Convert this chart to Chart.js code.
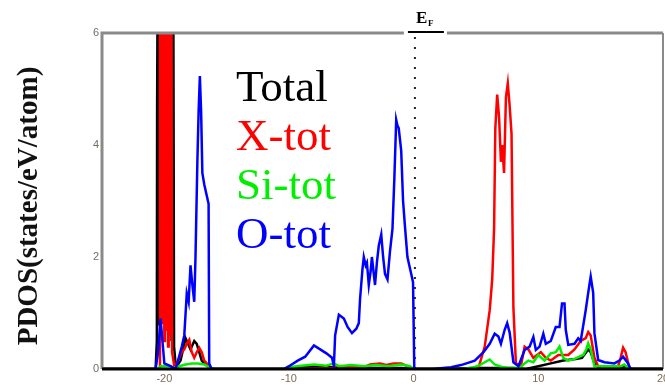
<!DOCTYPE html>
<html lang="en">
<head>
    <meta charset="UTF-8">
    <title>PDOS</title>
    <script src="https://cdn.jsdelivr.net/npm/chart.js"></script>
    <style>
        body { margin: 0; background: #fff; }
    </style>
</head>
<body>
    <canvas id="pdosChart" width="665" height="388"></canvas>

    <script>
        // values (energy in eV, PDOS in states/eV/atom)
        const energyTotal = [-25, -20.7, -20.6, -20.58, -20.52, -20.5, -20.42, -20.38, -20.0, -19.5, -19.42, -19.3, -19.22, -19.1, -19.0, -18.7, -18.5, -18.3, -18.1, -17.9, -17.6, -17.4, -17.2, -17.0, -16.8, -16.5, -16.2, -10.5, -9, -6, -3, -1, 0, 2, 5, 8, 9, 10, 11, 12, 13, 13.5, 14, 14.2, 14.5, 15, 16.5, 17, 17.3, 20];
        const dosTotal = [0, 0, 0.5, 4.6, 4.6, 9, 0.8, 9, 9, 9, 0.5, 9, 0.4, 0.1, 0.05, 0.15, 0.35, 0.55, 0.45, 0.35, 0.5, 0.45, 0.3, 0.15, 0.1, 0.05, 0, 0, 0.03, 0.03, 0.02, 0.02, 0, 0, 0.02, 0.02, 0, 0.05, 0.1, 0.15, 0.18, 0.2, 0.35, 0.3, 0.1, 0, 0, 0.05, 0, 0];

        const energyX = [-25, -20.4, -20.35, -20.3, -20.25, -20.15, -20.1, -20.0, -19.95, -19.85, -19.8, -19.7, -19.65, -19.55, -19.5, -19.45, -19.38, -19.2, -19.0, -18.8, -18.6, -18.4, -18.2, -18.0, -17.8, -17.6, -17.4, -17.2, -17.0, -16.8, -16.6, -16.3, -16.0, -10, -6.5, -6.2, -5.8, -4.0, -3.5, -2.7, -2.2, -1.6, -1.0, -0.5, 0, 4.5, 5.2, 5.7, 6.1, 6.3, 6.45, 6.55, 6.7, 6.85, 7.0, 7.1, 7.25, 7.4, 7.55, 7.7, 7.85, 8.0, 8.2, 8.6, 8.9, 9.2, 9.6, 10.2, 10.6, 11.0, 11.6, 12.4, 12.9, 13.4, 13.8, 14.0, 14.2, 14.5, 14.8, 16.4, 16.6, 16.8, 17.0, 17.3, 17.6, 20];
        const dosX = [0, 0, 9, 0.6, 9, 0.8, 9, 0.5, 9, 0.7, 9, 0.4, 9, 0.6, 9, 9, 0.3, 0.05, 0.1, 0.2, 0.3, 0.35, 0.45, 0.52, 0.3, 0.2, 0.3, 0.38, 0.3, 0.15, 0.1, 0.02, 0, 0, 0.02, 0.06, 0.02, 0.03, 0.08, 0.1, 0.07, 0.1, 0.1, 0.05, 0, 0, 0.02, 0.4, 1.05, 1.6, 2.5, 4.3, 4.9, 4.5, 3.7, 4.0, 3.5, 4.85, 5.1, 4.7, 4.2, 1.1, 0.1, 0.05, 0.4, 0.35, 0.2, 0.3, 0.2, 0.15, 0.25, 0.25, 0.35, 0.5, 0.55, 0.66, 0.6, 0.2, 0.05, 0.05, 0.2, 0.38, 0.3, 0.02, 0, 0];

        const energySi = [-25, -20.5, -20.3, -19.5, -19.2, -18.8, -18.3, -17.8, -17.3, -16.8, -16.4, -16.0, -10.5, -10, -9, -8, -7, -6.4, -6, -5, -4, -3, -2, -1, -0.3, 0, 4.0, 4.8, 5.3, 5.7, 6.1, 6.5, 7.0, 7.6, 8.5, 8.9, 9.2, 9.6, 10.0, 10.5, 11.0, 11.4, 11.7, 12.0, 12.4, 12.9, 13.6, 13.85, 14.0, 14.2, 14.5, 16.6, 16.9, 17.3, 20];
        const dosSi = [0, 0, 0.05, 0.05, 0.02, 0.05, 0.08, 0.1, 0.1, 0.08, 0.03, 0, 0, 0.03, 0.06, 0.08, 0.06, 0.1, 0.05, 0.07, 0.05, 0.07, 0.05, 0.08, 0.05, 0, 0, 0.03, 0.07, 0.12, 0.17, 0.08, 0.04, 0.02, 0.02, 0.1, 0.15, 0.12, 0.25, 0.15, 0.28, 0.3, 0.4, 0.2, 0.15, 0.18, 0.25, 0.35, 0.46, 0.35, 0.05, 0.05, 0.08, 0, 0];

        const energyO = [-25, -20.7, -20.5, -20.3, -20.15, -20.0, -19.5, -19.1, -18.9, -18.6, -18.4, -18.2, -18.05, -17.9, -17.75, -17.6, -17.5, -17.35, -17.25, -17.15, -17.05, -16.95, -16.8, -16.6, -16.45, -16.4, -16.2, -10.4, -10, -9.3, -8.7, -8.0, -7.5, -7.0, -6.55, -6.4, -6.3, -6.0, -5.6, -5.3, -4.95, -4.6, -4.4, -4.3, -4.1, -4.0, -3.85, -3.75, -3.6, -3.45, -3.35, -3.2, -3.1, -2.95, -2.8, -2.6, -2.45, -2.3, -2.1, -1.9, -1.7, -1.55, -1.4, -1.3, -1.2, -1.0, -0.85, -0.7, -0.5, -0.2, -0.05, 0.05, 1.5, 3.0, 3.8, 4.9, 5.6, 6.1, 6.5, 6.8, 7.0, 7.3, 7.5, 7.7, 8.0, 8.4, 8.9, 9.3, 9.6, 9.8, 10.1, 10.4, 10.6, 11.0, 11.4, 11.7, 11.9, 12.1, 12.2, 12.4, 12.9, 13.2, 13.4, 13.8, 14.0, 14.2, 14.4, 14.5, 14.8, 15.3, 16.1, 16.5, 16.8, 17.2, 17.4, 20];
        const dosO = [0, 0, 0.3, 0.9, 0.5, 0.1, 0.05, 0, 0.15, 0.4, 0.6, 1.35, 1.2, 1.85, 1.5, 1.2, 2.0, 3.7, 4.6, 5.23, 4.6, 3.5, 3.3, 3.1, 2.95, 0.1, 0, 0, 0.05, 0.15, 0.22, 0.42, 0.35, 0.28, 0.2, 0.05, 0.6, 0.97, 0.9, 0.75, 0.64, 0.72, 0.82, 1.25, 1.8, 2.0, 1.85, 1.9, 1.5, 1.75, 2.0, 1.7, 1.5, 1.9, 2.2, 2.4, 2.0, 1.7, 1.6, 2.1, 2.5, 3.4, 4.45, 4.35, 4.3, 3.9, 3.0, 2.55, 2.0, 1.7, 1.55, 0, 0, 0.03, 0.07, 0.15, 0.3, 0.45, 0.63, 0.58, 0.45, 0.7, 0.82, 0.65, 0.12, 0.05, 0.34, 0.4, 0.57, 0.34, 0.4, 0.63, 0.45, 0.5, 0.75, 0.75, 1.17, 1.17, 0.7, 0.43, 0.45, 0.55, 0.5, 1.05, 1.36, 1.65, 1.36, 0.64, 0.16, 0.12, 0.1, 0.15, 0.22, 0.1, 0, 0];

        const seriesNames = ['Total', 'X-tot', 'Si-tot', 'O-tot'];
        const xTickValues = [-20, -10, 0, 10, 20];
        const yTickValues = [0, 2, 4, 6];
        const fermiEnergy = 0.1;

        const colors = ['#000000', '#ff0000', '#00ee00', '#0000ff'];
        const series = [[energyTotal, dosTotal], [energyX, dosX], [energySi, dosSi], [energyO, dosO]];

        const datasets = series.map(([e, d], i) => ({
            label: seriesNames[i],
            data: e.map((x, j) => ({ x: x, y: d[j] })),
            borderColor: colors[i],
            borderWidth: 2.5,
            pointRadius: 0,
            tension: 0,
            fill: false,
            order: 3 - i // blue on top, black underneath
        }));

        // frame, Fermi level marker, legend text and axis title
        const decorations = {
            id: 'decorations',
            beforeDatasetsDraw(chart) {
                const { ctx, chartArea, scales } = chart;
                const xf = scales.x.getPixelForValue(fermiEnergy);
                ctx.save();
                ctx.strokeStyle = '#222';
                ctx.lineWidth = 2;
                ctx.setLineDash([2, 8]);
                ctx.beginPath();
                ctx.moveTo(xf, chartArea.top + 4);
                ctx.lineTo(xf, chartArea.bottom);
                ctx.stroke();
                ctx.restore();
            },
            afterDatasetsDraw(chart) {
                const { ctx, chartArea, scales } = chart;
                const { left, right, top, bottom } = chartArea;
                const xf = scales.x.getPixelForValue(fermiEnergy);
                ctx.save();

                // gray frame, gap in top line for the E_F label
                ctx.strokeStyle = '#8a8a8a';
                ctx.lineWidth = 3;
                ctx.beginPath();
                ctx.moveTo(left, bottom);
                ctx.lineTo(left, top);
                ctx.lineTo(xf - 11, top);
                ctx.moveTo(xf + 32, top);
                ctx.lineTo(right, top);
                ctx.stroke();
                ctx.lineWidth = 2;
                ctx.beginPath();
                ctx.moveTo(right, top);
                ctx.lineTo(right, bottom);
                ctx.stroke();

                // black bottom axis
                ctx.strokeStyle = '#000';
                ctx.lineWidth = 3;
                ctx.beginPath();
                ctx.moveTo(left, bottom);
                ctx.lineTo(right, bottom);
                ctx.stroke();

                // E_F label with bar
                ctx.lineWidth = 2;
                ctx.beginPath();
                ctx.moveTo(xf - 7, top - 1);
                ctx.lineTo(xf + 29, top - 1);
                ctx.stroke();
                ctx.fillStyle = '#000';
                ctx.textBaseline = 'alphabetic';
                ctx.textAlign = 'left';
                ctx.font = 'bold 17px "Liberation Serif"';
                ctx.fillText('E', xf + 1, top - 10);
                ctx.font = 'bold 9px "Liberation Serif"';
                ctx.fillText('F', xf + 13, top - 7);

                // legend as plain coloured words
                ctx.font = '45px "Liberation Serif"';
                seriesNames.forEach((name, i) => {
                    ctx.fillStyle = colors[i];
                    ctx.fillText(name, 236, 101 + i * 49);
                });

                // y axis title
                ctx.translate(30, 206);
                ctx.rotate(-Math.PI / 2);
                ctx.textAlign = 'center';
                ctx.textBaseline = 'middle';
                ctx.fillStyle = '#111';
                ctx.font = 'bold 29px "Liberation Serif"';
                ctx.fillText('PDOS(states/eV/atom)', 0, 0);
                ctx.restore();
            }
        };

        const ctx = document.getElementById('pdosChart').getContext('2d');
        new Chart(ctx, {
            type: 'line',
            data: { datasets: datasets },
            options: {
                responsive: false,
                animation: false,
                layout: { padding: { top: 33, right: 2, left: 0, bottom: 0 } },
                plugins: {
                    legend: { display: false },
                    tooltip: { enabled: false }
                },
                scales: {
                    x: {
                        type: 'linear',
                        min: -25,
                        max: 20,
                        grid: { display: false, drawTicks: false },
                        border: { display: false },
                        ticks: {
                            padding: 3,
                            color: '#7d6b58',
                            font: { family: 'Liberation Sans', size: 11 },
                            maxRotation: 0
                        },
                        afterBuildTicks: s => { s.ticks = xTickValues.map(v => ({ value: v })); },
                        afterFit: s => { s.height = 19; s.paddingLeft = 0; s.paddingRight = 0; }
                    },
                    y: {
                        min: 0,
                        max: 6,
                        grid: { display: false, drawTicks: false },
                        border: { display: false },
                        ticks: {
                            padding: 3,
                            color: '#7d6b58',
                            font: { family: 'Liberation Sans', size: 11 }
                        },
                        afterBuildTicks: s => { s.ticks = yTickValues.map(v => ({ value: v })); },
                        afterFit: s => { s.width = 102; s.paddingTop = 0; s.paddingBottom = 0; }
                    }
                }
            },
            plugins: [decorations]
        });
    </script>
</body>
</html>
